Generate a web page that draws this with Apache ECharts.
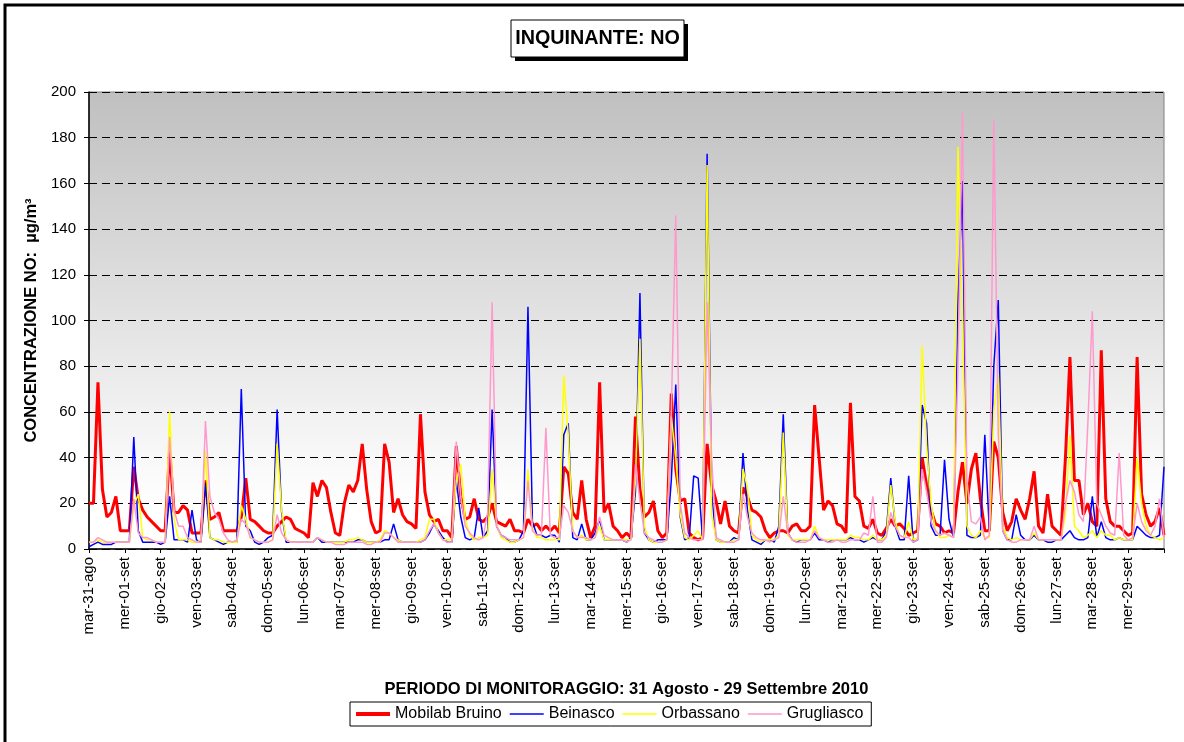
<!DOCTYPE html>
<html>
<head>
<meta charset="utf-8">
<title>INQUINANTE: NO</title>
<script src="https://cdn.jsdelivr.net/npm/echarts@6/dist/echarts.min.js"></script>
<style>
html, body { margin: 0; padding: 0; background: #ffffff; }
#chart { width: 1184px; height: 742px; }
</style>
</head>
<body>
<div id="chart"></div>
<script>
// etichette asse X: un giorno ogni 24 ore
var dayLabels = [
  "mar-31-ago", "mer-01-set", "gio-02-set", "ven-03-set", "sab-04-set", "dom-05-set",
  "lun-06-set", "mar-07-set", "mer-08-set", "gio-09-set", "ven-10-set", "sab-11-set",
  "dom-12-set", "lun-13-set", "mar-14-set", "mer-15-set", "gio-16-set", "ven-17-set",
  "sab-18-set", "dom-19-set", "lun-20-set", "mar-21-set", "mer-22-set", "gio-23-set",
  "ven-24-set", "sab-25-set", "dom-26-set", "lun-27-set", "mar-28-set", "mer-29-set"
];
var yTicks = [0, 20, 40, 60, 80, 100, 120, 140, 160, 180, 200];
var stepHours = 3; // un valore ogni 3 ore (8 per giorno)

// valori NO (µg/m³), una riga per giorno
var mobilab = [
  20, 20, 73, 26, 14, 16, 23, 8,
  8, 8, 36, 22, 17, 14, 12, 10,
  8, 8, 44, 16, 16, 19, 17, 7,
  7, 7, 30, 13, 14, 16, 8, 8,
  8, 8, 14, 31, 13, 12, 10, 8,
  7, 7, 10, 12, 14, 13, 9, 8,
  7, 5, 29, 23, 30, 27, 16, 7,
  6, 20, 28, 25, 30, 46, 26, 12,
  7, 8, 46, 38, 16, 22, 15, 12,
  11, 9, 59, 25, 15, 12, 13, 8,
  8, 5, 45, 23, 13, 14, 22, 13,
  12, 14, 20, 12, 11, 10, 13, 8,
  8, 7, 13, 10, 11, 8, 10, 8,
  10, 7, 36, 33, 16, 13, 30, 13,
  5, 10, 73, 16, 20, 10, 8, 5,
  7, 5, 58, 26, 14, 16, 21, 8,
  5, 7, 68, 35, 21, 22, 7, 5,
  4, 5, 46, 28, 21, 11, 21, 10,
  8, 7, 27, 23, 17, 16, 14, 8,
  5, 7, 8, 8, 7, 10, 11, 8,
  8, 10, 63, 40, 17, 21, 19, 11,
  10, 7, 64, 23, 21, 10, 9, 13,
  7, 6, 9, 13, 10, 11, 9, 6,
  7, 8, 40, 28, 17, 11, 10, 7,
  8, 7, 25, 38, 20, 35, 42, 22,
  8, 8, 47, 40, 16, 8, 12, 22,
  17, 13, 22, 34, 10, 7, 24, 10,
  8, 6, 40, 84, 30, 30, 15, 20,
  12, 10, 87, 22, 12, 10, 10, 8,
  6, 7, 84, 24, 15, 10, 12, 18,
  6
];
var beinasco = [
  1, 2, 3, 2, 2, 2, 3, 3,
  3, 3, 49, 8, 3, 3, 3, 3,
  2, 3, 23, 4, 4, 4, 3, 17,
  4, 3, 29, 5, 4, 3, 2, 3,
  3, 3, 70, 10, 8, 3, 2, 3,
  5, 6, 61, 16, 3, 3, 3, 3,
  3, 3, 3, 5, 3, 3, 3, 3,
  3, 3, 3, 3, 4, 4, 3, 3,
  3, 3, 4, 4, 11, 4, 3, 3,
  3, 3, 3, 4, 7, 11, 8, 5,
  3, 3, 30, 14, 5, 4, 5, 18,
  5, 8, 61, 10, 6, 5, 3, 3,
  4, 8, 106, 12, 6, 6, 5, 6,
  6, 3, 50, 55, 5, 4, 11, 4,
  4, 7, 13, 4, 4, 4, 4, 4,
  3, 5, 25, 112, 7, 4, 3, 4,
  4, 4, 30, 72, 14, 4, 5, 32,
  31, 4, 173, 25, 4, 3, 3, 3,
  5, 4, 42, 17, 4, 3, 2, 4,
  4, 3, 10, 59, 7, 4, 3, 4,
  4, 4, 7, 4, 4, 3, 4, 4,
  4, 4, 5, 4, 4, 3, 4, 5,
  4, 4, 8, 31, 10, 4, 4, 32,
  3, 4, 63, 55, 10, 6, 6, 39,
  13, 5, 107, 161, 6, 5, 5, 6,
  50, 8, 80, 109, 8, 4, 4, 15,
  6, 4, 4, 6, 4, 4, 3, 3,
  4, 4, 6, 8, 5, 4, 4, 5,
  23, 5, 12, 5, 4, 4, 5, 4,
  4, 4, 10, 8, 6, 5, 5, 6,
  36
];
var orbassano = [
  3, 3, 4, 3, 3, 3, 3, 3,
  3, 3, 19, 24, 5, 4, 4, 3,
  3, 3, 60, 13, 4, 4, 4, 3,
  3, 4, 43, 5, 4, 4, 3, 3,
  3, 3, 19, 13, 5, 4, 3, 3,
  3, 4, 46, 17, 4, 3, 3, 3,
  3, 3, 3, 5, 4, 3, 3, 3,
  3, 3, 4, 4, 5, 4, 3, 3,
  3, 4, 8, 7, 5, 4, 3, 3,
  3, 3, 4, 5, 13, 13, 7, 4,
  4, 4, 30, 37, 13, 6, 4, 5,
  5, 6, 35, 11, 5, 4, 3, 3,
  4, 5, 35, 9, 5, 5, 4, 4,
  4, 4, 76, 50, 8, 5, 6, 4,
  4, 5, 10, 4, 4, 4, 4, 4,
  4, 4, 30, 92, 10, 4, 3, 3,
  3, 4, 58, 40, 15, 5, 4, 6,
  8, 4, 168, 15, 4, 3, 3, 3,
  4, 4, 35, 27, 6, 4, 3, 4,
  4, 4, 6, 51, 6, 4, 4, 4,
  4, 4, 10, 5, 4, 4, 4, 4,
  4, 4, 6, 5, 5, 4, 4, 6,
  4, 4, 6, 28, 12, 6, 5, 12,
  4, 5, 89, 45, 20, 8, 5, 5,
  6, 5, 176, 100, 10, 6, 5, 8,
  5, 5, 60, 77, 10, 5, 4, 5,
  4, 4, 4, 7, 4, 4, 4, 4,
  4, 4, 15, 50, 10, 8, 5, 6,
  8, 5, 8, 6, 6, 4, 5, 4,
  4, 4, 40, 20, 10, 6, 5, 4,
  5
];
var grugliasco = [
  3, 3, 5, 4, 3, 3, 3, 3,
  3, 3, 22, 7, 5, 5, 4, 3,
  3, 3, 49, 17, 10, 10, 5, 4,
  3, 3, 56, 23, 16, 13, 7, 4,
  3, 4, 13, 11, 5, 4, 3, 3,
  3, 4, 15, 7, 4, 3, 3, 3,
  3, 3, 3, 5, 4, 3, 3, 2,
  2, 2, 3, 3, 3, 3, 2, 2,
  3, 3, 7, 7, 5, 3, 3, 3,
  3, 3, 3, 4, 8, 11, 7, 4,
  3, 3, 47, 23, 10, 7, 5, 4,
  5, 16, 108, 10, 6, 5, 4, 4,
  4, 5, 30, 8, 6, 6, 53, 6,
  5, 5, 19, 16, 8, 5, 5, 5,
  4, 5, 14, 6, 5, 4, 4, 4,
  3, 4, 37, 21, 7, 5, 4, 3,
  3, 4, 60, 146, 20, 7, 5, 4,
  4, 4, 108, 40, 5, 4, 3, 3,
  3, 4, 24, 14, 7, 5, 4, 4,
  3, 4, 5, 23, 7, 4, 3, 3,
  3, 4, 8, 5, 4, 3, 3, 4,
  3, 3, 4, 4, 4, 7, 6, 23,
  3, 3, 5, 16, 10, 6, 5, 5,
  3, 4, 35, 25, 12, 8, 6, 7,
  6, 5, 80, 191, 30, 12, 11, 14,
  4, 6, 188, 50, 8, 4, 3, 3,
  4, 4, 4, 10, 4, 4, 4, 4,
  4, 4, 20, 30, 25, 15, 12, 55,
  104, 20, 15, 10, 7, 6, 42, 6,
  4, 5, 20, 12, 8, 6, 10, 22,
  5
];

var fontName = "'Liberation Sans', Arial, sans-serif";

// coppie [ora, valore] per l'asse temporale
function toPoints(values) {
  var out = [];
  for (var i = 0; i < values.length; i++) {
    out.push([i * stepHours, values[i]]);
  }
  return out;
}

function lineSeries(name, values, color, width) {
  return {
    name: name,
    type: "line",
    data: toPoints(values),
    symbol: "none",
    smooth: false,
    lineStyle: { color: color, width: width },
    itemStyle: { color: color }
  };
}

var myChart = echarts.init(document.getElementById("chart"));
var option = {
  backgroundColor: "#ffffff",
  animation: false,
  textStyle: { fontFamily: fontName },
  graphic: [
    // cornice esterna
    {
      type: "rect",
      shape: { x: 5, y: 5, width: 1260, height: 820 },
      style: { fill: "none", stroke: "#000000", lineWidth: 3 },
      silent: true
    },
    // riquadro titolo con ombra
    {
      type: "rect",
      shape: { x: 515, y: 24, width: 173, height: 37 },
      style: { fill: "#000000" },
      silent: true
    },
    {
      type: "rect",
      shape: { x: 511, y: 20, width: 173, height: 37 },
      style: { fill: "#ffffff", stroke: "#000000", lineWidth: 1 },
      silent: true
    },
    {
      type: "text",
      x: 597.5,
      y: 38.5,
      scaleX: 0.94,
      style: {
        text: "INQUINANTE: NO",
        x: 0,
        y: 0,
        textAlign: "center",
        textVerticalAlign: "middle",
        fontSize: 21,
        fontWeight: "bold",
        fontFamily: fontName,
        fill: "#000000"
      },
      silent: true
    }
  ],
  grid: {
    left: 89,
    right: 20,
    top: 92,
    bottom: 193,
    show: true,
    borderColor: "#808080",
    borderWidth: 1,
    backgroundColor: new echarts.graphic.LinearGradient(0, 0, 0, 1, [
      { offset: 0, color: "#c0c0c0" },
      { offset: 0.9, color: "#ffffff" },
      { offset: 1, color: "#ffffff" }
    ]),
    outerBoundsMode: "none"
  },
  legend: {
    left: 350,
    top: 702,
    orient: "horizontal",
    itemWidth: 34,
    itemHeight: 12,
    itemGap: 8,
    padding: [4, 8, 4, 6],
    borderColor: "#000000",
    borderWidth: 1,
    backgroundColor: "#ffffff",
    textStyle: { fontSize: 16, color: "#000000", fontFamily: fontName },
    data: [
      { name: "Mobilab Bruino", icon: "path://M0,0H34V4H0Z" },
      { name: "Beinasco", icon: "path://M0,0H34V1.5H0Z" },
      { name: "Orbassano", icon: "path://M0,0H34V1.5H0Z" },
      { name: "Grugliasco", icon: "path://M0,0H34V1.5H0Z" }
    ]
  },
  xAxis: {
    type: "value",
    min: 0,
    max: dayLabels.length * 24,
    interval: 24,
    name: "PERIODO DI MONITORAGGIO: 31 Agosto - 29 Settembre 2010",
    nameLocation: "middle",
    nameGap: 132,
    nameTextStyle: { fontSize: 16.5, fontWeight: "bold", color: "#000000", fontFamily: fontName },
    axisLine: { show: true, onZero: false, lineStyle: { color: "#000000", width: 1.5 } },
    axisTick: { show: true, length: 4, lineStyle: { color: "#000000" } },
    splitLine: { show: false },
    axisLabel: {
      rotate: 90,
      margin: 8,
      fontSize: 15,
      color: "#000000",
      fontFamily: fontName,
      formatter: function (v) {
        var i = Math.round(v / 24);
        return i < dayLabels.length ? dayLabels[i] : "";
      }
    }
  },
  yAxis: {
    type: "value",
    min: yTicks[0],
    max: yTicks[yTicks.length - 1],
    interval: 20,
    name: "CONCENTRAZIONE NO:  µg/m³",
    nameLocation: "middle",
    nameGap: 48,
    nameRotate: 90,
    nameTextStyle: { fontSize: 16.5, fontWeight: "bold", color: "#000000", fontFamily: fontName },
    axisLine: { show: true, lineStyle: { color: "#000000", width: 1.5 } },
    axisTick: { show: true, length: 5, lineStyle: { color: "#000000" } },
    axisLabel: { margin: 13, fontSize: 15, color: "#000000", fontFamily: fontName },
    splitLine: {
      show: true,
      lineStyle: { color: "#000000", width: 1, type: [8, 5] }
    }
  },
  series: [
    lineSeries("Mobilab Bruino", mobilab, "#ff0000", 3),
    lineSeries("Beinasco", beinasco, "#0000ff", 1.5),
    lineSeries("Orbassano", orbassano, "#ffff00", 1.5),
    lineSeries("Grugliasco", grugliasco, "#ff99cc", 1.5)
  ]
};
myChart.setOption(option);
window.onresize = function () {
  myChart.resize();
};
</script>
</body>
</html>
